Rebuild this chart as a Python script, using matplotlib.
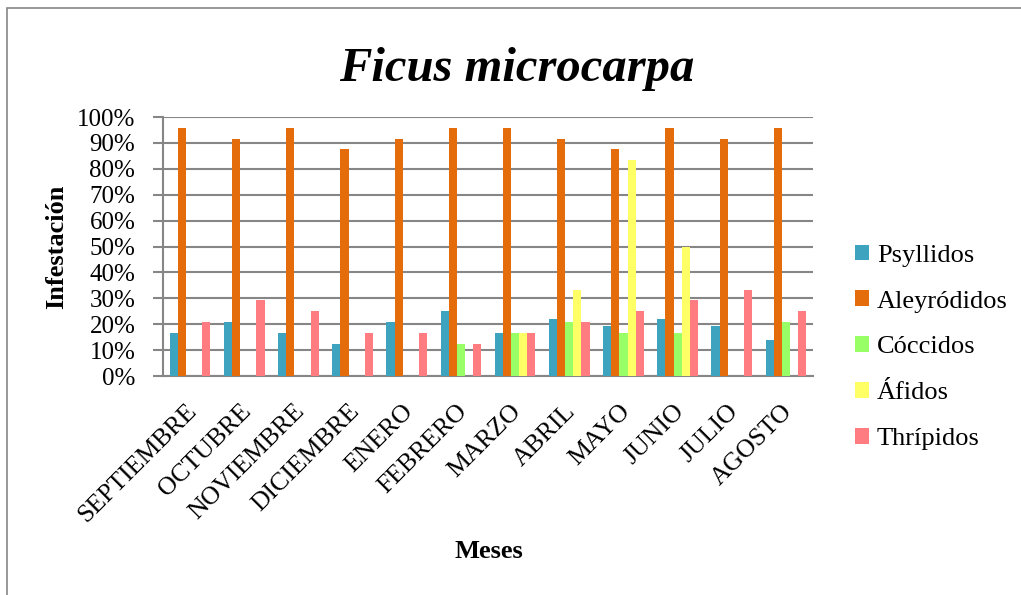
import numpy as np
import matplotlib
matplotlib.use("Agg")
import matplotlib.pyplot as plt
import matplotlib.transforms as mtransforms
from matplotlib.patches import Rectangle

plt.rcParams['font.family'] = ['Liberation Serif', 'DejaVu Serif']

# datos (% de infestacion)
meses = ["SEPTIEMBRE", "OCTUBRE", "NOVIEMBRE", "DICIEMBRE", "ENERO", "FEBRERO",
         "MARZO", "ABRIL", "MAYO", "JUNIO", "JULIO", "AGOSTO"]
series = ["Psyllidos", "Aleyródidos", "Cóccidos", "Áfidos", "Thrípidos"]
psyllidos = [16.7, 20.8, 16.7, 12.5, 20.8, 25.0, 16.7, 22.2, 19.4, 22.2, 19.4, 13.9]
aleyrodidos = [95.8, 91.7, 95.8, 87.5, 91.7, 95.8, 95.8, 91.7, 87.5, 95.8, 91.7, 95.8]
coccidos = [0, 0, 0, 0, 0, 12.5, 16.7, 20.8, 16.7, 16.7, 0, 20.8]
afidos = [0, 0, 0, 0, 0, 0, 16.7, 33.3, 83.3, 50.0, 0, 0]
thripidos = [20.8, 29.2, 25.0, 16.7, 16.7, 12.5, 16.7, 20.8, 25.0, 29.2, 33.3, 25.0]
colores = ["#3DA3BF", "#E46C0A", "#99FF66", "#FFFF66", "#FF7C80"]

fig = plt.figure(figsize=(10.21, 5.95), dpi=100)
ax = fig.add_axes([0.1597, 0.368, 0.6366, 0.4353])

# marco del grafico
fig.patches.append(Rectangle((7 / 1021, -0.1), 1.2, 1.1 - 8 / 595,
                             transform=fig.transFigure, fill=False,
                             edgecolor="#868686", lw=1.2))

x = np.arange(len(meses))
w = 0.15
datos = [psyllidos, aleyrodidos, coccidos, afidos, thripidos]
for i, (nombre, vals) in enumerate(zip(series, datos)):
    ax.bar(x + (i - 2) * w, np.array(vals) / 100, w, color=colores[i],
           label=nombre, zorder=3)

ax.set_xlim(-0.5, len(meses) - 0.5)
ax.set_ylim(0, 1)
ax.set_yticks(np.arange(0, 1.01, 0.1))
ax.set_yticklabels([f"{int(round(v * 100))}%" for v in np.arange(0, 1.01, 0.1)],
                   fontsize=18)
ax.yaxis.grid(True, color="#868686", lw=1.5, zorder=0)
ax.tick_params(axis="y", length=7, width=1.5, color="#868686", pad=13)
ax.tick_params(axis="x", length=0)
for s in ["top", "right"]:
    ax.spines[s].set_visible(False)
ax.spines["left"].set_color("#868686")
ax.spines["left"].set_linewidth(1.5)
ax.spines["bottom"].set_color("#868686")
ax.spines["bottom"].set_linewidth(1.5)

ax.set_xticks(x)
ax.set_xticklabels(meses, fontsize=18.5, rotation=45, ha="right", va="center",
                   rotation_mode="anchor")
offset = mtransforms.ScaledTranslation(3 / 100, -27 / 100, fig.dpi_scale_trans)
for lab in ax.get_xticklabels():
    lab.set_transform(lab.get_transform() + offset)

fig.text(0.506, 1 - 81 / 595, "Ficus microcarpa", fontsize=35, fontweight="bold",
         fontstyle="italic", ha="center", va="baseline")
fig.text(57 / 1021, 1 - 247 / 595, "Infestación", fontsize=19, fontweight="bold",
         rotation=90, ha="center", va="center")
fig.text(489 / 1021, 1 - 552 / 595, "Meses", fontsize=19, fontweight="bold",
         ha="center", va="center")

fig.legend(loc="upper left", bbox_to_anchor=(844 / 1021, 1 - 234 / 595),
           frameon=False, fontsize=19, handlelength=0.55, handleheight=0.55,
           handletextpad=0.3, labelspacing=0.89, borderaxespad=0)

fig.savefig("out.png", dpi=100)
